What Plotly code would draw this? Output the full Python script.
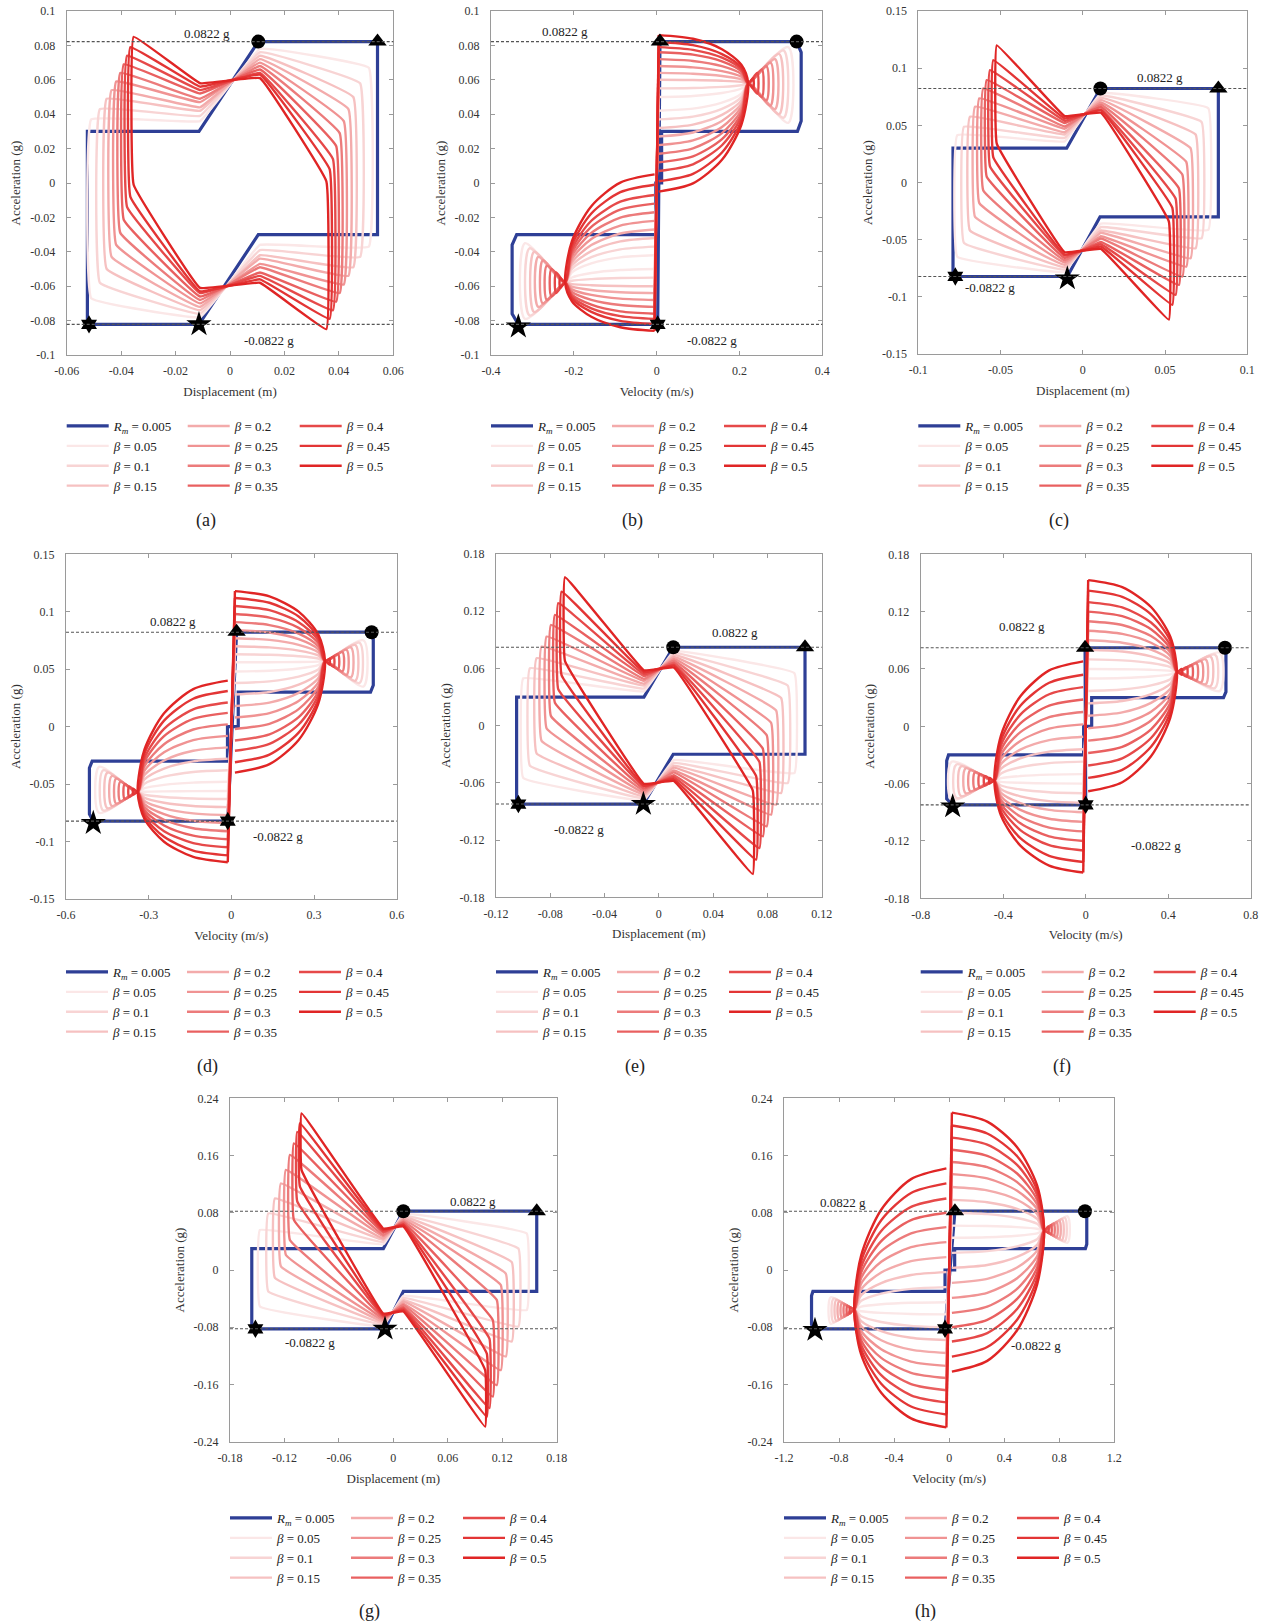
import plotly.graph_objects as go

W, H = 1266, 1623
SERIF = "Liberation Serif, DejaVu Serif, serif"

# ---------------- data ----------------
BETA_LABELS = ["0.05", "0.1", "0.15", "0.2", "0.25", "0.3", "0.35", "0.4", "0.45", "0.5"]
RM_LABEL = "0.005"
G_LIMIT = 0.0822
MARK_SYMBOLS = ["circle", "triangle-up", "star", "hexagram"]

# displacement plots: central kink (shared)
KINK_X = 0.011
KINK_A = [0.036, 0.039, 0.042, 0.044, 0.047, 0.049, 0.052, 0.054, 0.056, 0.058]
KINK_B = [0.078, 0.076, 0.074, 0.072, 0.070, 0.068, 0.066, 0.064, 0.063, 0.061]

# (a) displacement
A_XL = [-0.0510, -0.0478, -0.0453, -0.0435, -0.0418, -0.0403, -0.0390, -0.0378, -0.0366, -0.0354]
A_YTL = [0.037, 0.043, 0.049, 0.054, 0.059, 0.064, 0.069, 0.074, 0.079, 0.085]
A_YTR = [0.067, 0.058, 0.050, 0.043, 0.036, 0.029, 0.0215, 0.014, 0.008, 0.001]
A_BLUE_X = [-0.0524, -0.0114, 0.0104, 0.0542, 0.0542, 0.0104, -0.0114, -0.0524, -0.0524]
A_BLUE_Y = [-0.0822, -0.0822, -0.030, -0.030, 0.0822, 0.0822, 0.030, 0.030, -0.0822]
A_MARK_X = [0.0104, 0.0542, -0.0114, -0.0518]
A_MARK_Y = [0.0822, 0.0822, -0.0822, -0.0822]

# (c) displacement
C_XL = [-0.0763, -0.0722, -0.0686, -0.0655, -0.0629, -0.0605, -0.0584, -0.0564, -0.0544, -0.0523]
C_YTL = [0.0415, 0.0488, 0.0575, 0.0663, 0.0736, 0.0823, 0.0896, 0.0983, 0.1070, 0.1200]
C_YTR = [0.065, 0.053, 0.042, 0.030, 0.018, 0.007, -0.005, -0.014, -0.022, -0.034]
C_BLUE_X = [-0.0789, -0.0094, 0.0105, 0.0824, 0.0824, 0.0107, -0.0098, -0.0789, -0.0789]
C_BLUE_Y = [-0.0822, -0.0822, -0.030, -0.030, 0.0822, 0.0822, 0.030, 0.030, -0.0822]
C_MARK_X = [0.0107, 0.0824, -0.0094, -0.0775]
C_MARK_Y = [0.0822, 0.0822, -0.0840, -0.0822]

# (e) displacement
E_XL = [-0.0999, -0.0950, -0.0901, -0.0864, -0.0827, -0.0795, -0.0766, -0.0741, -0.0717, -0.0692]
E_YTL = [0.0497, 0.0602, 0.0707, 0.0829, 0.0934, 0.1056, 0.1161, 0.1284, 0.1406, 0.1556]
E_YTR = [0.055, 0.042, 0.029, 0.016, 0.003, -0.010, -0.024, -0.038, -0.053, -0.068]
E_BLUE_X = [-0.1048, -0.0114, 0.0106, 0.1077, 0.1077, 0.0106, -0.0110, -0.1048, -0.1048]
E_BLUE_Y = [-0.0822, -0.0822, -0.030, -0.030, 0.0822, 0.0822, 0.030, 0.030, -0.0822]
E_MARK_X = [0.0106, 0.1077, -0.0114, -0.1035]
E_MARK_Y = [0.0822, 0.0822, -0.0822, -0.0822]

# (g) displacement
G_XL = [-0.1470, -0.1378, -0.1305, -0.1239, -0.1184, -0.1140, -0.1096, -0.1059, -0.1030, -0.1012]
G_YTL = [0.056, 0.079, 0.100, 0.121, 0.140, 0.161, 0.177, 0.193, 0.205, 0.219]
G_YTR = [0.051, 0.030, 0.011, -0.005, -0.021, -0.042, -0.070, -0.096, -0.117, -0.140]
G_BLUE_X = [-0.156, -0.0092, 0.011, 0.158, 0.158, 0.011, -0.011, -0.156, -0.156]
G_BLUE_Y = [-0.0822, -0.0822, -0.030, -0.030, 0.0822, 0.0822, 0.030, 0.030, -0.0822]
G_MARK_X = [0.011, 0.158, -0.0092, -0.152]
G_MARK_Y = [0.0822, 0.0822, -0.0822, -0.0822]

# (b) velocity
B_TOP = [0.050, 0.055, 0.060, 0.064, 0.068, 0.072, 0.076, 0.079, 0.082, 0.086]
B_END = [0.042, 0.037, 0.032, 0.027, 0.022, 0.017, 0.012, 0.007, 0.001, -0.005]
B_OX = [0.318, 0.307, 0.296, 0.286, 0.275, 0.265, 0.254, 0.243, 0.233, 0.222]
B_OHI = [0.079, 0.077, 0.075, 0.072, 0.070, 0.068, 0.066, 0.064, 0.061, 0.059]
B_OLO = [0.035, 0.038, 0.040, 0.043, 0.045, 0.048, 0.050, 0.052, 0.055, 0.057]
B_PINCH = [0.221, 0.058]
B_X0 = 0.005
B_BLUE_X = [0.008, 0.338, 0.349, 0.349, 0.340, 0.012, 0.012, -0.002, -0.002, -0.338, -0.349, -0.349, -0.334, 0.0025, 0.008]
B_BLUE_Y = [0.0822, 0.0822, 0.076, 0.036, 0.030, 0.030, 0.0, 0.0, -0.030, -0.030, -0.036, -0.076, -0.0822, -0.0822, 0.0822]
B_MARK_X = [0.338, 0.008, -0.334, 0.0025]
B_MARK_Y = [0.0822, 0.0822, -0.0835, -0.0822]

# (d) velocity
D_TOP = [0.056, 0.063, 0.070, 0.077, 0.084, 0.091, 0.098, 0.105, 0.112, 0.118]
D_END = [0.048, 0.038, 0.028, 0.018, 0.008, -0.002, -0.012, -0.021, -0.031, -0.040]
D_OX = [0.480, 0.465, 0.450, 0.434, 0.418, 0.403, 0.387, 0.371, 0.356, 0.340]
D_OHI = [0.075, 0.073, 0.071, 0.069, 0.067, 0.065, 0.063, 0.061, 0.059, 0.057]
D_OLO = [0.035, 0.038, 0.040, 0.043, 0.045, 0.048, 0.050, 0.052, 0.054, 0.056]
D_PINCH = [0.340, 0.057]
D_X0 = 0.013
D_BLUE_X = [0.019, 0.505, 0.515, 0.515, 0.505, 0.025, 0.025, -0.014, -0.014, -0.505, -0.515, -0.515, -0.501, -0.013, 0.019]
D_BLUE_Y = [0.0822, 0.0822, 0.076, 0.036, 0.030, 0.030, 0.0, 0.0, -0.030, -0.030, -0.036, -0.076, -0.0822, -0.0822, 0.0822]
D_MARK_X = [0.509, 0.019, -0.501, -0.013]
D_MARK_Y = [0.0822, 0.0826, -0.0840, -0.0822]

# (f) velocity
F_TOP = [0.060, 0.070, 0.080, 0.090, 0.100, 0.110, 0.120, 0.130, 0.142, 0.153]
F_END = [0.050, 0.037, 0.024, 0.011, -0.002, -0.015, -0.028, -0.041, -0.054, -0.068]
F_OX = [0.650, 0.627, 0.605, 0.582, 0.560, 0.537, 0.514, 0.490, 0.466, 0.443]
F_OHI = [0.077, 0.075, 0.073, 0.070, 0.068, 0.066, 0.064, 0.062, 0.060, 0.058]
F_OLO = [0.037, 0.040, 0.042, 0.044, 0.046, 0.048, 0.050, 0.052, 0.054, 0.056]
F_PINCH = [0.443, 0.057]
F_X0 = 0.012
F_BLUE_X = [-0.003, 0.672, 0.680, 0.680, 0.668, 0.029, 0.029, -0.010, -0.010, -0.665, -0.674, -0.674, -0.645, 0.0, -0.003]
F_BLUE_Y = [0.0822, 0.0822, 0.076, 0.036, 0.030, 0.030, 0.0, 0.0, -0.030, -0.030, -0.036, -0.076, -0.0822, -0.0822, 0.0822]
F_MARK_X = [0.675, -0.003, -0.645, 0.0]
F_MARK_Y = [0.0822, 0.0822, -0.0840, -0.0822]

# (h) velocity
H_TOP = [0.062, 0.080, 0.098, 0.116, 0.134, 0.151, 0.168, 0.185, 0.202, 0.220]
H_END = [0.045, 0.024, 0.003, -0.018, -0.039, -0.060, -0.080, -0.100, -0.121, -0.142]
H_OX = [0.860, 0.840, 0.820, 0.800, 0.780, 0.760, 0.740, 0.720, 0.705, 0.690]
H_OHI = [0.075, 0.073, 0.071, 0.069, 0.067, 0.065, 0.063, 0.061, 0.059, 0.057]
H_OLO = [0.038, 0.040, 0.042, 0.044, 0.046, 0.048, 0.050, 0.052, 0.054, 0.055]
H_PINCH = [0.690, 0.055]
H_X0 = 0.020
H_BLUE_X = [0.042, 0.987, 1.000, 1.000, 0.990, 0.040, 0.040, -0.030, -0.030, -0.990, -1.000, -1.000, -0.975, -0.030, 0.042]
H_BLUE_Y = [0.0822, 0.0822, 0.076, 0.036, 0.030, 0.030, 0.0, 0.0, -0.030, -0.030, -0.036, -0.076, -0.0822, -0.0822, 0.0822]
H_MARK_X = [0.987, 0.042, -0.975, -0.030]
H_MARK_Y = [0.0822, 0.0822, -0.0840, -0.0822]

# tick labels
ACC_TICKS_01 = [-0.1, -0.08, -0.06, -0.04, -0.02, 0, 0.02, 0.04, 0.06, 0.08, 0.1]
ACC_TICKS_015 = [-0.15, -0.1, -0.05, 0, 0.05, 0.1, 0.15]
ACC_TICKS_018 = [-0.18, -0.12, -0.06, 0, 0.06, 0.12, 0.18]
ACC_TICKS_024 = [-0.24, -0.16, -0.08, 0, 0.08, 0.16, 0.24]
A_XTICKS = [-0.06, -0.04, -0.02, 0, 0.02, 0.04, 0.06]
B_XTICKS = [-0.4, -0.2, 0, 0.2, 0.4]
C_XTICKS = [-0.1, -0.05, 0, 0.05, 0.1]
D_XTICKS = [-0.6, -0.3, 0, 0.3, 0.6]
E_XTICKS = [-0.12, -0.08, -0.04, 0, 0.04, 0.08, 0.12]
F_XTICKS = [-0.8, -0.4, 0, 0.4, 0.8]
G_XTICKS = [-0.18, -0.12, -0.06, 0, 0.06, 0.12, 0.18]
H_XTICKS = [-1.2, -0.8, -0.4, 0, 0.4, 0.8, 1.2]

# ---------------- styles / layout ----------------
RED_SHADES = ["#fbe7e7", "#f8d4d4", "#f6c1c1", "#f3abab", "#f09393", "#ec7b7b", "#e96060",
              "#e64949", "#e33535", "#e02525"]
BLUE = "#2e3f96"

PANELS = [
    dict(tag="(a)", kind="disp", box=(66.7, 11, 393.3, 355), xt=A_XTICKS, yt=ACC_TICKS_01,
         xl=A_XL, ytl=A_YTL, ytr=A_YTR, bx=A_BLUE_X, by=A_BLUE_Y, mx=A_MARK_X, my=A_MARK_Y,
         xtitle="Displacement (m)", lab_pos=(0.0006, 0.087, "right"), lab_neg=(0.0043, -0.0913, "left"), row=0),
    dict(tag="(b)", kind="vel", box=(491, 11, 822.3, 355), xt=B_XTICKS, yt=ACC_TICKS_01,
         top=B_TOP, end=B_END, ox=B_OX, ohi=B_OHI, olo=B_OLO, pinch=B_PINCH, x0=B_X0,
         bx=B_BLUE_X, by=B_BLUE_Y, mx=B_MARK_X, my=B_MARK_Y,
         xtitle="Velocity (m/s)", lab_pos=(-0.221, 0.088, "center"), lab_neg=(0.133, -0.0913, "center"), row=0),
    dict(tag="(c)", kind="disp", box=(918.3, 11, 1247.3, 354), xt=C_XTICKS, yt=ACC_TICKS_015,
         xl=C_XL, ytl=C_YTL, ytr=C_YTR, bx=C_BLUE_X, by=C_BLUE_Y, mx=C_MARK_X, my=C_MARK_Y,
         xtitle="Displacement (m)", lab_pos=(0.0469, 0.092, "center"), lab_neg=(-0.0564, -0.0917, "center"), row=0),
    dict(tag="(d)", kind="vel", box=(66, 554.3, 396.7, 899), xt=D_XTICKS, yt=ACC_TICKS_015,
         top=D_TOP, end=D_END, ox=D_OX, ohi=D_OHI, olo=D_OLO, pinch=D_PINCH, x0=D_X0,
         bx=D_BLUE_X, by=D_BLUE_Y, mx=D_MARK_X, my=D_MARK_Y,
         xtitle="Velocity (m/s)", lab_pos=(-0.211, 0.0913, "center"), lab_neg=(0.17, -0.0958, "center"), row=1),
    dict(tag="(e)", kind="disp", box=(496, 554, 821.7, 897.3), xt=E_XTICKS, yt=ACC_TICKS_018,
         xl=E_XL, ytl=E_YTL, ytr=E_YTR, bx=E_BLUE_X, by=E_BLUE_Y, mx=E_MARK_X, my=E_MARK_Y,
         xtitle="Displacement (m)", lab_pos=(0.056, 0.0975, "center"), lab_neg=(-0.0586, -0.1087, "center"), row=1),
    dict(tag="(f)", kind="vel", box=(920.7, 554.3, 1250.7, 898.3), xt=F_XTICKS, yt=ACC_TICKS_018,
         top=F_TOP, end=F_END, ox=F_OX, ohi=F_OHI, olo=F_OLO, pinch=F_PINCH, x0=F_X0,
         bx=F_BLUE_X, by=F_BLUE_Y, mx=F_MARK_X, my=F_MARK_Y,
         xtitle="Velocity (m/s)", lab_pos=(-0.31, 0.1042, "center"), lab_neg=(0.341, -0.125, "center"), row=1),
    dict(tag="(g)", kind="disp", box=(230, 1098.3, 556.7, 1441.7), xt=G_XTICKS, yt=ACC_TICKS_024,
         xl=G_XL, ytl=G_YTL, ytr=G_YTR, bx=G_BLUE_X, by=G_BLUE_Y, mx=G_MARK_X, my=G_MARK_Y,
         xtitle="Displacement (m)", lab_pos=(0.0874, 0.0955, "center"), lab_neg=(-0.0918, -0.1016, "center"), row=2),
    dict(tag="(h)", kind="vel", box=(784, 1098.3, 1114.3, 1441.7), xt=H_XTICKS, yt=ACC_TICKS_024,
         top=H_TOP, end=H_END, ox=H_OX, ohi=H_OHI, olo=H_OLO, pinch=H_PINCH, x0=H_X0,
         bx=H_BLUE_X, by=H_BLUE_Y, mx=H_MARK_X, my=H_MARK_Y,
         xtitle="Velocity (m/s)", lab_pos=(-0.769, 0.0946, "center"), lab_neg=(0.631, -0.106, "center"), row=2),
]
LEGEND_TOP = [411, 957, 1503]
TAG_Y = [521, 1066, 1611]
MARK_SIZES = [14, 16, 19, 14]


def fmt(v):
    return "0" if v == 0 else f"{v:g}"


def vel_lobe(x0, top, end, xp, yp, ox, ohi, olo, span):
    ax = xp - x0
    bu = top - yp
    bd = yp - end
    xs = [x0, x0 + 0.383 * ax, x0 + 0.707 * ax, x0 + 0.924 * ax, xp]
    ys = [top, yp + 0.924 * bu, yp + 0.707 * bu, yp + 0.383 * bu, yp]
    if ox - xp > 0.01 * span:
        xs += [ox, ox, xp]
        ys += [ohi, olo, yp]
    xs += [x0 + 0.924 * ax, x0 + 0.707 * ax, x0 + 0.383 * ax, x0]
    ys += [yp - 0.383 * bd, yp - 0.707 * bd, yp - 0.924 * bd, end]
    return xs, ys


fig = go.Figure()
layout = dict(width=W, height=H, margin=dict(l=0, r=0, t=0, b=0), paper_bgcolor="white",
              plot_bgcolor="white", showlegend=True, font=dict(family=SERIF, color="#333"))
shapes, annotations = [], []

for i, p in enumerate(PANELS):
    n = i + 1
    xr = "x" if n == 1 else f"x{n}"
    yr = "y" if n == 1 else f"y{n}"
    L, T, R, B = p["box"]
    xrange_ = [p["xt"][0], p["xt"][-1]]
    yrange_ = [p["yt"][0], p["yt"][-1]]
    span = xrange_[1] - xrange_[0]
    common = dict(ticks="inside", ticklen=4, tickcolor="#9a9a9a", showline=True, linecolor="#9a9a9a",
                  linewidth=1, mirror="ticks", showgrid=False, zeroline=False, automargin=False,
                  tickfont=dict(family=SERIF, size=12, color="#333"))
    layout["xaxis" if n == 1 else f"xaxis{n}"] = dict(
        domain=[L / W, R / W], anchor=yr, range=xrange_, tickvals=p["xt"], ticktext=[fmt(v) for v in p["xt"]],
        ticklabelstandoff=5, title=dict(text=p["xtitle"], standoff=9, font=dict(family=SERIF, size=13, color="#333")),
        **common)
    layout["yaxis" if n == 1 else f"yaxis{n}"] = dict(
        domain=[1 - B / H, 1 - T / H], anchor=xr, range=yrange_, tickvals=p["yt"], ticktext=[fmt(v) for v in p["yt"]],
        ticklabelstandoff=8, title=dict(text="Acceleration (g)", standoff=6, font=dict(family=SERIF, size=13, color="#333")),
        **common)

    lnames = []
    for c, off in enumerate([-5, 116, 228]):
        k = i * 3 + c + 1
        lname = "legend" if k == 1 else f"legend{k}"
        lnames.append(lname)
        layout[lname] = dict(x=(L + off) / W, y=1 - LEGEND_TOP[p["row"]] / H, xanchor="left", yanchor="top",
                             bgcolor="rgba(0,0,0,0)", borderwidth=0, tracegroupgap=0, itemwidth=42,
                             font=dict(family=SERIF, size=13, color="#222"), traceorder="normal")

    # blue reference loop
    fig.add_trace(go.Scatter(x=p["bx"], y=p["by"], mode="lines", xaxis=xr, yaxis=yr,
                             line=dict(color=BLUE, width=3.2), legend=lnames[0],
                             name=f"<i>R</i><sub><i>m</i></sub> = {RM_LABEL}", legendgroup=f"p{n}rm"))

    # red loops
    for j, lab in enumerate(BETA_LABELS):
        col = RED_SHADES[j]
        lg = lnames[0] if j < 3 else (lnames[1] if j < 7 else lnames[2])
        name = f"<i>β</i> = {lab}"
        grp = f"p{n}b{j}"
        if p["kind"] == "disp":
            xl, ytl, ytr = p["xl"][j], p["ytl"][j], p["ytr"][j]
            a, b = KINK_A[j], KINK_B[j]
            xs = [xl, xl, -KINK_X, KINK_X, -xl, -xl, KINK_X, -KINK_X, xl]
            ys = [-ytr, ytl, a, b, ytr, -ytl, -a, -b, -ytr]
            fig.add_trace(go.Scatter(x=xs, y=ys, mode="lines", xaxis=xr, yaxis=yr,
                                     line=dict(color=col, width=2.4, shape="spline", smoothing=0.2),
                                     name=name, legend=lg, legendgroup=grp))
        else:
            x0 = p["x0"]
            top, end = p["top"][j], p["end"][j]
            xs, ys = vel_lobe(x0, top, end, p["pinch"][0], p["pinch"][1],
                              p["ox"][j], p["ohi"][j], p["olo"][j], span)
            fig.add_trace(go.Scatter(x=xs, y=ys, mode="lines", xaxis=xr, yaxis=yr,
                                     line=dict(color=col, width=2.4, shape="spline", smoothing=0.8),
                                     name=name, legend=lg, legendgroup=grp))
            fig.add_trace(go.Scatter(x=[-v for v in xs], y=[-v for v in ys], mode="lines", xaxis=xr, yaxis=yr,
                                     line=dict(color=col, width=2.4, shape="spline", smoothing=0.8),
                                     name=name, legend=lg, legendgroup=grp, showlegend=False))
            fig.add_trace(go.Scatter(x=[-x0, x0], y=[-top, top], mode="lines", xaxis=xr, yaxis=yr,
                                     line=dict(color=col, width=2.4), name=name, legend=lg,
                                     legendgroup=grp, showlegend=False))

    # markers
    for s, sym in enumerate(MARK_SYMBOLS):
        fig.add_trace(go.Scatter(x=[p["mx"][s]], y=[p["my"][s]], mode="markers", xaxis=xr, yaxis=yr,
                                 marker=dict(symbol=sym, size=MARK_SIZES[s], color="black"),
                                 showlegend=False, hoverinfo="skip"))

    # limit lines
    for yv in (G_LIMIT, -G_LIMIT):
        shapes.append(dict(type="line", xref=f"{xr} domain", yref=yr, x0=0, x1=1, y0=yv, y1=yv,
                           line=dict(color="#555", width=1.1, dash="3px,2px"), layer="above"))
    # limit labels
    for (lx, ly, al), txt in ((p["lab_pos"], f"{G_LIMIT} g"), (p["lab_neg"], f"-{G_LIMIT} g")):
        annotations.append(dict(x=lx, y=ly, xref=xr, yref=yr, text=txt, showarrow=False,
                                xanchor=al, yanchor="middle", font=dict(family=SERIF, size=13, color="#222")))
    # panel tag
    annotations.append(dict(x=((L + R) / 2 - 24) / W, y=1 - TAG_Y[p["row"]] / H, xref="paper", yref="paper",
                            text=p["tag"], showarrow=False, xanchor="center", yanchor="middle",
                            font=dict(family=SERIF, size=18, color="#222")))

layout["shapes"] = shapes
layout["annotations"] = annotations
fig.update_layout(**layout)
fig.write_html("out.html")
